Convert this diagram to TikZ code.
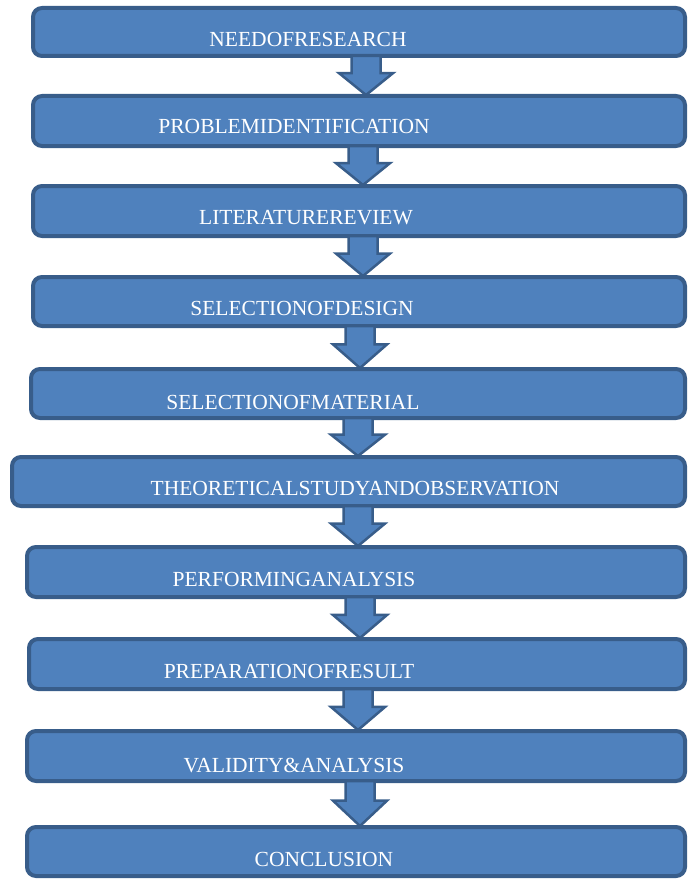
\documentclass[tikz,border=0pt]{standalone}
\usepackage{fontspec}
\setmainfont{Liberation Serif}
\usetikzlibrary{calc}
\definecolor{stagefill}{RGB}{79,129,189}
\definecolor{stageline}{RGB}{56,93,138}
\tikzset{
    stage/.style={draw=stageline, fill=stagefill, line width=4pt, rounded corners=9pt, inner sep=0pt},
    stagetext/.style={anchor=base, text=white, font=\fontsize{21.5}{22}\selectfont, inner sep=0pt},
    flowarrow/.style={draw=stageline, fill=stagefill, line width=2.5pt, line join=miter}
}
% block arrow at x = #1, from node #2 down to node #3
\newcommand{\blockdown}[3]{%
    \draw[flowarrow] let \p1=(#2.south), \p2=(#3.north) in
        (#1-14.5,\y1+2) -- (#1+14.5,\y1+2) -- (#1+14.5,{\y1+(\y2-\y1)*0.42})
        -- (#1+27,{\y1+(\y2-\y1)*0.42}) -- (#1,\y2-1) -- (#1-27,{\y1+(\y2-\y1)*0.42})
        -- (#1-14.5,{\y1+(\y2-\y1)*0.42}) -- cycle;}
\begin{document}
\begin{tikzpicture}[x=1pt, y=-1pt]
    \useasboundingbox (0,0) rectangle (689,880);
    % stages
    \node[stage, minimum width=652pt, minimum height=48pt] (need) at (359,32) {};
    \node[stage, minimum width=652pt, minimum height=50pt] (problem) at (359,121) {};
    \node[stage, minimum width=652pt, minimum height=50pt] (literature) at (359,211) {};
    \node[stage, minimum width=652pt, minimum height=49pt] (design) at (359,301.5) {};
    \node[stage, minimum width=654pt, minimum height=49pt] (material) at (358,393.5) {};
    \node[stage, minimum width=673pt, minimum height=49pt] (theory) at (348.5,481.5) {};
    \node[stage, minimum width=658pt, minimum height=50pt] (analysis) at (356,572) {};
    \node[stage, minimum width=656pt, minimum height=50pt] (result) at (357,664) {};
    \node[stage, minimum width=658pt, minimum height=50pt] (validity) at (356,756) {};
    \node[stage, minimum width=658pt, minimum height=49pt] (conclusion) at (356,851.5) {};
    % arrows
    \blockdown{366}{need}{problem}
    \blockdown{363}{problem}{literature}
    \blockdown{363}{literature}{design}
    \blockdown{360}{design}{material}
    \blockdown{358}{material}{theory}
    \blockdown{358}{theory}{analysis}
    \blockdown{360}{analysis}{result}
    \blockdown{358}{result}{validity}
    \blockdown{360}{validity}{conclusion}
    % labels
    \node[stagetext] (needtext) at (308,47) {NEEDOFRESEARCH};
    \node[stagetext] (problemtext) at (294,134) {PROBLEMIDENTIFICATION};
    \node[stagetext] (literaturetext) at (306,224) {LITERATUREREVIEW};
    \node[stagetext] (designtext) at (302,315) {SELECTIONOFDESIGN};
    \node[stagetext] (materialtext) at (293,409) {SELECTIONOFMATERIAL};
    \node[stagetext] (theorytext) at (355,495) {THEORETICALSTUDYANDOBSERVATION};
    \node[stagetext] (analysistext) at (294,586) {PERFORMINGANALYSIS};
    \node[stagetext] (resulttext) at (289,678) {PREPARATIONOFRESULT};
    \node[stagetext] (validitytext) at (294,772) {VALIDITY\&ANALYSIS};
    \node[stagetext] (conclusiontext) at (324,866) {CONCLUSION};
\end{tikzpicture}
\end{document}
